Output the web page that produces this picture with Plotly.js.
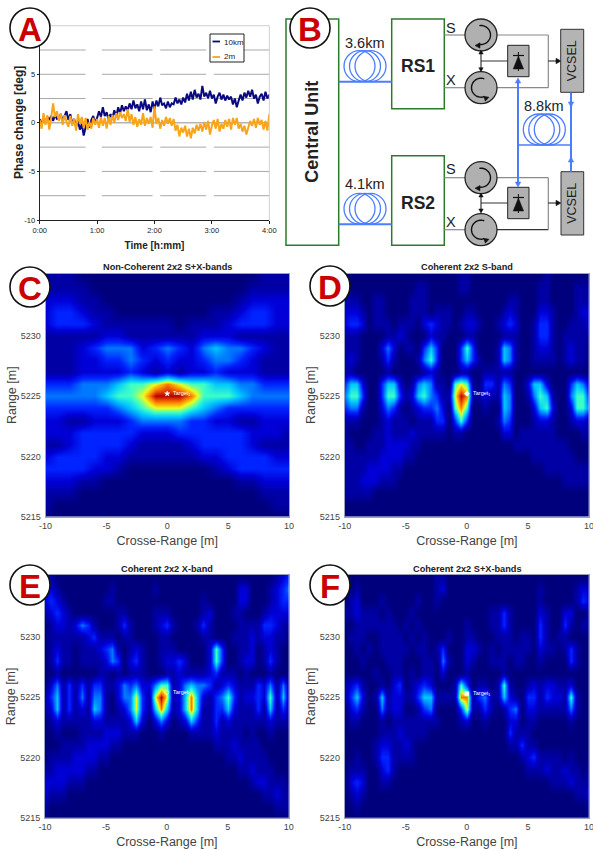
<!DOCTYPE html>
<html><head><meta charset="utf-8">
<script src="https://cdn.plot.ly/plotly-3.0.1.min.js"></script>
<style>html,body{margin:0;padding:0;background:#fff}#g{width:593px;height:850px}</style>
</head><body><div id="g"></div>
<script>
// ---- Panel A data: phase change [deg], one reading every 2 minutes
const timeTicks = [0,60,120,180,240];
const timeLabels = ['0:00','1:00','2:00','3:00','4:00'];
const phaseTicks = [-10,-5,0,5];
const phaseLabels = ['-10','-5','0','5'];
const phase10km = [0.4,-0.2,0.6,0.1,0.6,0.3,0.7,0.2,0.8,0.4,0.5,0.9,0.2,0.7,1.2,
0.3,0.9,-0.1,0.4,-0.4,0.2,-0.7,-0.1,-1.3,-0.3,0.4,-0.5,0.3,0.7,0.0,
0.5,1.2,0.6,1.6,0.7,1.1,0.3,0.9,0.5,1.3,0.6,1.6,1.0,1.8,1.2,
1.7,1.3,2.0,1.4,2.3,1.5,1.9,1.2,2.2,1.4,2.4,1.3,1.9,1.1,2.2,
1.4,2.3,1.7,2.6,1.8,2.0,1.5,2.2,1.6,2.0,1.9,2.6,2.0,2.4,1.9,
2.6,2.1,3.0,2.3,3.2,2.4,3.4,2.6,3.0,2.4,3.8,2.7,3.1,2.5,3.3,
2.5,2.9,2.0,2.7,3.1,2.4,2.9,2.3,2.8,2.4,2.7,1.9,2.5,1.6,2.3,
2.9,2.3,3.1,2.6,3.3,2.7,3.4,2.5,2.9,2.0,2.7,3.0,2.3,3.2,2.5,2.9];
const phase2m = [0.3,-0.6,1.0,-0.2,0.8,-0.7,0.5,2.0,0.6,1.2,0.2,1.0,-0.2,0.8,0.1,
-0.4,0.7,-0.3,0.4,-0.8,0.9,-0.1,0.6,-0.5,0.5,-0.7,0.1,-0.6,0.5,-0.2,
0.4,-0.5,0.6,-0.3,0.5,-0.6,0.7,-0.2,0.8,0.0,1.0,0.3,1.1,0.5,0.9,
0.2,1.4,0.1,0.9,-0.2,0.6,-0.4,0.4,-0.2,1.0,-0.3,0.5,-0.1,0.6,-0.5,
1.7,-0.1,0.5,-0.6,0.3,-0.3,0.6,-0.1,0.5,-0.3,0.4,-0.8,-0.2,-1.4,-0.5,
-1.0,-0.3,-1.4,-0.6,-1.6,-0.5,-1.1,-0.2,-0.8,-0.1,-0.9,0.1,-0.7,0.2,-1.2,
-0.3,0.3,-0.6,0.4,-0.9,-0.1,-0.6,0.3,-0.4,0.4,-0.7,0.5,-0.2,0.5,-0.6,
-0.1,-0.9,-0.3,-1.2,-0.4,0.2,-0.3,0.4,-0.5,0.5,-0.2,0.3,-0.7,0.2,-0.8,0.9];

// ---- Panels C-F data: intensity level 0-9.
// Rows run from range 5235 m (top) down to 5215 m.
// Each row runs from crossrange -10 m to +10 m.
const rangeRows = [5235,5234,5233,5232,5231,5230,5229,5228,5227,5226,5225,5224,5223,5222,5221,5220,5219,5218,5217,5216,5215];
const panelC = [ // 1 m column spacing
"11100 00000 00000 00011 1",
"11110 00000 00000 00111 1",
"22211 00000 00000 01222 2",
"23321 10000 00001 12332 2",
"23332 11111 10111 23332 2",
"11111 22111 11122 21111 1",
"11123 44423 43245 44321 1",
"11122 33432 32234 43211 1",
"11122 22321 21223 22211 1",
"33344 45667 87665 54433 3",
"44444 56679 99866 65444 4",
"33333 34567 77654 33333 3",
"22112 22344 44332 21122 2",
"22233 33322 23333 33222 1",
"11233 33211 11233 33211 1",
"23333 22111 11122 33332 2",
"33332 21000 00001 23333 3",
"22211 00000 00000 01122 2",
"11100 00000 00000 00011 1",
"10000 00000 00000 00001 1",
"00000 00000 00000 00000 0"];
const panelD = [ // 0.5 m column spacing
"00000 00000 00000 00001 10000 00000 00010 00000 0",
"10000 00000 00110 00001 10000 00000 00110 00011 1",
"11100 11000 01110 00000 00000 00110 00110 00011 1",
"22210 11000 01110 11100 11000 01210 00221 00012 2",
"23320 11101 11023 21101 22100 12320 01331 00111 2",
"11100 00112 10002 11000 11000 01110 01331 01111 1",
"11100 02420 11035 30003 63000 15410 01221 01211 0",
"12100 01310 00146 30003 53100 15410 01111 01211 0",
"11000 00100 00012 10001 10011 11100 00000 00000 0",
"35520 03552 01454 11067 61033 14300 25520 00354 2",
"46630 03663 12564 31179 81121 15400 14651 00466 3",
"34410 02431 01233 42068 60010 05400 02562 00266 4",
"11100 01211 10111 33036 30000 14300 01221 00122 1",
"10000 11211 12111 11011 00000 02201 11111 00001 1",
"11001 11222 21100 00000 00000 00011 11111 11000 0",
"11111 12222 11000 00000 00000 00000 01111 11100 0",
"11112 22211 00000 00000 00000 00000 00011 11111 1",
"11122 21110 00000 00000 00000 00000 00000 01111 1",
"11111 00000 00000 00000 00000 00000 00000 00000 0",
"00000 00000 00000 00000 00000 00000 00000 00000 0",
"00000 00000 00000 00000 00000 00000 00000 00000 0"];
const panelE = [
"11000 00000 00000 00000 00000 00000 00000 00012 3",
"22100 00000 01000 00010 00000 00000 00220 00123 4",
"23210 00000 11000 00000 00000 01000 00220 00123 3",
"12321 00000 00110 00011 10000 01200 01100 01222 2",
"01221 24310 00131 00012 31000 13100 00111 13321 1",
"01111 11231 11011 00001 10000 01100 01112 12211 0",
"01211 01112 34101 21001 11000 00263 00112 01210 0",
"01311 01111 24302 31001 22320 00263 00122 01310 0",
"00100 00001 10101 11000 11211 11231 11010 00100 0",
"02413 13133 11243 42246 61245 44312 32111 32414 1",
"13513 14144 10244 73179 71258 52134 63122 32615 1",
"12513 12154 10124 73158 51258 51133 52111 31513 1",
"01211 11122 11112 52024 20125 31131 21111 11211 1",
"00100 01111 22211 10001 00001 11121 11101 00100 0",
"00011 11222 21100 00000 00000 00011 12111 10000 0",
"01111 22221 10000 00000 00000 00000 11211 11000 0",
"11222 22110 00000 00000 00000 00000 00112 11100 0",
"22221 11000 00000 00000 00000 00000 00001 22111 0",
"21110 00000 00000 00000 00000 00000 00000 01121 1",
"10000 00000 00000 00000 00000 00000 00000 00011 1",
"00000 00000 00000 00000 00000 00000 00000 00000 0"];
const panelF = [
"00000 00000 00000 11000 00000 00000 00000 00000 0",
"00100 00000 00000 12000 00000 00000 00100 00012 2",
"01200 01000 00100 10000 00000 00000 00100 00013 2",
"11211 10100 01000 00000 00001 13100 00210 02200 1",
"00111 11110 10100 00000 10001 13100 00310 03101 1",
"01110 01111 01010 00100 11000 11101 10310 11000 0",
"00101 01111 10110 13000 22101 01111 10211 01310 0",
"00010 00111 00011 04100 21001 11011 00100 00310 0",
"00000 10011 01011 02000 10000 01000 00000 00000 0",
"12310 01023 01232 00016 30110 16100 12122 11200 0",
"13520 15122 11355 11118 81341 15210 33132 21610 0",
"02310 04122 00134 00003 71131 01340 22111 11410 0",
"01100 01011 11111 10001 20010 00220 11000 00100 0",
"00000 01112 11110 00000 00000 00311 10000 00000 0",
"00000 12211 21000 00000 00000 00113 11000 00000 0",
"00100 13311 11000 00000 00000 00001 23111 10100 0",
"01110 02310 00000 00000 00000 00000 11121 12110 1",
"02320 01100 00000 00000 00000 00000 00001 11211 1",
"01210 00000 00000 00000 00000 00000 00000 00011 2",
"00100 00000 00000 00000 00000 00000 00000 00000 1",
"00000 00000 00000 00000 00000 00000 00000 00000 0"];
const rangeTicks = [5215,5220,5225,5230];
const crossTicks = [-10,-5,0,5,10];
const crossLabels = ['-10','-5','0','5','10'];
const panelTitles = ['Non-Coherent 2x2 S+X-bands','Coherent 2x2 S-band','Coherent 2x2 X-band','Coherent 2x2 S+X-bands'];
const targetRange = [5225.2,5225.2,5225.4,5225.3];
const targetSymbols = ['star','diamond','circle-open','square'];
const badgeLetters = ['A','B','C','D','E','F'];

const W=593,H=850, FONT='Arial, "Liberation Sans", sans-serif';
const X=x=>x/W, Y=y=>1-y/H;
const jet=[[0,'rgb(0,0,125)'],[1/9,'rgb(0,0,165)'],[2/9,'rgb(0,0,215)'],[3/9,'rgb(0,35,255)'],[4/9,'rgb(0,120,255)'],
[5/9,'rgb(0,200,255)'],[6/9,'rgb(60,255,200)'],[7/9,'rgb(235,255,30)'],[8/9,'rgb(255,120,0)'],[1,'rgb(185,0,0)']];

const shapes=[], annotations=[], traces=[];
const P={xref:'paper',yref:'paper',layer:'above'};
function line(x0,y0,x1,y1,c,w){shapes.push({...P,type:'line',x0:X(x0),y0:Y(y0),x1:X(x1),y1:Y(y1),line:{color:c,width:w||1}});}
function rect(x0,y0,x1,y1,c,w,f){shapes.push({...P,type:'rect',x0:X(x0),y0:Y(y0),x1:X(x1),y1:Y(y1),line:{color:c,width:w||1},fillcolor:f||'rgba(0,0,0,0)'});}
function circ(cx,cy,r,c,w,f){shapes.push({...P,type:'circle',x0:X(cx-r),y0:Y(cy-r),x1:X(cx+r),y1:Y(cy+r),line:{color:c,width:w||1},fillcolor:f||'rgba(0,0,0,0)'});}
function poly(pts,f){shapes.push({...P,type:'path',path:'M'+pts.map(p=>X(p[0])+' '+Y(p[1])).join(' L')+' Z',fillcolor:f,line:{color:f,width:0.5}});}
function arc(cx,cy,r,a0,a1,c,w){const pts=[];for(let k=0;k<=24;k++){const a=(a0+(a1-a0)*k/24)*Math.PI/180;pts.push(X(cx+r*Math.cos(a))+' '+Y(cy+r*Math.sin(a)));}
 shapes.push({...P,type:'path',path:'M'+pts.join(' L'),line:{color:c,width:w}});}
function tip(x,y,dx,dy,s,f){const b=[x-dx*s,y-dy*s],h=s*0.55;poly([[x,y],[b[0]-dy*h,b[1]+dx*h],[b[0]+dy*h,b[1]-dx*h]],f);}
function text(t,x,y,size,o){o=o||{};annotations.push({text:t,x:X(x),y:Y(y),xref:'paper',yref:'paper',showarrow:false,xanchor:o.xa||'center',yanchor:'middle',textangle:o.rot||0,
 font:{family:FONT,size:size,color:o.c||'#222'}});}

// ---- Panel A
const tA=[39.7,269.3,25.7,220];
const minutes=phase10km.map((_,i)=>i*2);
traces.push({type:'scatter',mode:'lines',name:'10km',x:minutes,y:phase10km,xaxis:'x',yaxis:'y',line:{color:'#0a0a80',width:2},showlegend:false});
traces.push({type:'scatter',mode:'lines',name:'2m',x:minutes,y:phase2m,xaxis:'x',yaxis:'y',line:{color:'#f8a51c',width:2},showlegend:false});
const gridSeg=[[0,48],[65,118],[126,174],[182,240]];
[7.5,5,2.5,-2.5,-5,-7.5].forEach(v=>gridSeg.forEach(s=>shapes.push({type:'line',xref:'x',yref:'y',layer:'below',x0:s[0],x1:s[1],y0:v,y1:v,line:{color:'#a8a8a8',width:1}})));
shapes.push({type:'line',xref:'x',yref:'y',layer:'below',x0:0,x1:240,y0:0,y1:0,line:{color:'#b4b4b4',width:1.5}});
rect(210,34,244,62,'#222',1,'#fff');
line(212.5,41.5,220,41.5,'#0a0a80',1.8); line(212.5,57,220,57,'#f8a51c',1.8);
text('10km',222,42,8,{xa:'left'}); text('2m',222,57,8,{xa:'left'});
text('<b>Phase change [deg]</b>',19,123,12,{rot:-90});

const layout={width:W,height:H,margin:{l:0,r:0,t:0,b:0,pad:0},paper_bgcolor:'#fff',plot_bgcolor:'#fff',showlegend:false,
 font:{family:FONT,size:9,color:'#333'},shapes,annotations};
layout.xaxis={domain:[X(tA[0]),X(tA[1])],range:[0,240],tickvals:timeTicks,ticktext:timeLabels,showgrid:false,zeroline:false,showline:true,linecolor:'#222',mirror:false,
 ticks:'outside',ticklen:3,tickcolor:'#222',tickfont:{size:7.5,color:'#222'},anchor:'y',title:{text:'<b>Time [h:mm]</b>',font:{size:10,color:'#222'},standoff:7}};
layout.yaxis={domain:[Y(tA[3]),Y(tA[2])],range:[-10,10],tickvals:phaseTicks,ticktext:phaseLabels,showgrid:false,zeroline:false,showline:true,linecolor:'#222',
 ticks:'outside',ticklen:2,tickcolor:'#222',tickfont:{size:7.5,color:'#222'},anchor:'x'};
line(tA[0],tA[2],tA[1],tA[2],'#cfcfcf',1); line(tA[1],tA[2],tA[1],tA[3],'#cfcfcf',1);

// ---- Panels C-F
const parseRows=rows=>rows.map(r=>r.replace(/ /g,'').split('').map(Number)).reverse();
const geo=[[45.5,289,273.7,516.7],[344.7,589,273.7,516.7],[45,288.7,575,817.7],[344.7,589,575,817.7]];
[panelC,panelD,panelE,panelF].forEach((rows,i)=>{
 const z=parseRows(rows),n=z[0].length,ax=i+2,g=geo[i];
 const xs=z[0].map((_,k)=>-10+20*k/(n-1));
 traces.push({type:'heatmap',x:xs,y:rangeRows.slice().reverse(),z,zmin:0,zmax:9,zsmooth:'best',colorscale:jet,showscale:false,xaxis:'x'+ax,yaxis:'y'+ax});
 traces.push({type:'scatter',mode:'markers',x:[0],y:[targetRange[i]],
  marker:{symbol:targetSymbols[i],size:4,color:'#fff',line:{color:'#fff',width:0.5}},xaxis:'x'+ax,yaxis:'y'+ax,showlegend:false});
 annotations.push({text:'Target<sub>1</sub>',x:0.3,y:targetRange[i],xref:'x'+ax,yref:'y'+ax,showarrow:false,xanchor:'left',yanchor:'middle',font:{family:FONT,size:5.5,color:'#fff'}});
 const common={showgrid:false,zeroline:false,showline:true,mirror:true,linecolor:'#9aa0c0',linewidth:1,ticks:'',tickfont:{size:9,color:'#444'}};
 layout['xaxis'+ax]={...common,domain:[X(g[0]),X(g[1])],range:[-10,10],tickvals:crossTicks,ticktext:crossLabels,ticklabeloverflow:'allow',anchor:'y'+ax,title:{text:'Crosse-Range [m]',font:{size:12.5,color:'#444'},standoff:6}};
 layout['yaxis'+ax]={...common,domain:[Y(g[3]),Y(g[2])],range:[5215,5235.15],tickvals:rangeTicks,anchor:'x'+ax,ticklabelstandoff:2,title:{text:'Range [m]',font:{size:12.5,color:'#444'},standoff:1}};
});
text('<b>'+panelTitles[0]+'</b>',167.6,267,9.2); text('<b>'+panelTitles[1]+'</b>',466.6,267,9.2);
text('<b>'+panelTitles[2]+'</b>',167,568.7,9.2); text('<b>'+panelTitles[3]+'</b>',467,568.7,9.2);

// ---- Panel B schematic
const GREEN='#2c7a2c',BLUE='#4a7dff',GR='#8a8a8a',BOX='#b4b4b4',K='#111';
function coil(cx,cy){[-5.5,0,5.5].forEach(d=>circ(cx+d,cy,15.5,BLUE,1.3));}
rect(286,19,338.7,245.3,GREEN,1.5,'#fff'); rect(391.7,19,444.3,108.7,GREEN,1.5,'#fff'); rect(391.7,155.7,444.3,245.3,GREEN,1.5,'#fff');
coil(365,66.2); coil(365,208.8); coil(544.3,129.5);
line(338.7,81.7,391.7,81.7,BLUE,2); line(338.7,224.3,391.7,224.3,BLUE,2); line(517.7,145,571,145,BLUE,1.5);
text('<b>Central Unit</b>',312,131.7,18,{rot:-90}); text('<b>RS1</b>',418.3,66,17.5); text('<b>RS2</b>',418.3,202.7,17.5);
text('3.6km',365,42.7,14.5); text('4.1km',365,184.3,14.5); text('8.8km',544.3,106,14.5);
text('S',451.3,28.3,14.5); text('X',451.3,80,14.5); text('S',451.3,169.3,14.5); text('X',451.3,221.7,14.5);
[[35,87.7,61,51,70.7,28.3],[177.7,229.7,203,194,212,0]].forEach(b=>{
 const[yS,yX,yM,yA0,yA1]=b;
 line(444.3,yS,465,yS,GR,1.2); line(444.3,yX,465,yX,GR,1.2);
 line(497,yS,548.3,yS,GR,1.2); line(497,yX,548.3,yX,yS>100?'#333':GR,1.2); line(548.3,yS,548.3,yX,GR,1.2);
 circ(481,yS,16,'#222',1.3,'#b0b0b0'); circ(481,yX,16,'#222',1.3,'#b0b0b0');
 arc(481,yS,9.5,-100,100,K,1.4); tip(475,yS+10.5,-1,0,5,K);
 arc(481,yX,9.5,-70,-290,K,1.4); tip(489,yX+9.5,0.9,-0.3,5,K);
 line(481,yA0,481,yA1,K,1); tip(481,yA0-1,0,-1,4,K); tip(481,yA1+1,0,1,4,K);
 line(481,yM,507.7,yM,'#333',1);
 rect(507.7,yM-15.7,529,yM+15.7,'#222',1,'#b0b0b0');
 line(518.4,yM-9,518.4,yM+10,K,1); line(513,yM-5.5,524,yM-5.5,K,1.2);
 poly([[513.2,yM+8],[523.6,yM+8],[518.4,yM-5]],K);
 line(548.3,yM,557,yM,K,1); tip(561,yM,1,0,5,K);
});
rect(560.7,29.3,583.7,92.3,'#333',1,BOX); rect(561,171.7,583.7,235,'#333',1,BOX);
text('VCSEL',572.3,61,12.5,{rot:-90}); text('VCSEL',572.3,203.5,12.5,{rot:-90});
line(518,82,518,183,BLUE,2); tip(518,78,0,-1,5,BLUE); tip(518,187,0,1,5,BLUE);
line(571,92.7,571,171.7,BLUE,2); tip(571,107,0,1,5,BLUE); tip(571,157,0,-1,5,BLUE);

// ---- Panel badges
[[30,28],[310,28],[30,287],[330,286],[30,585],[330,585]].forEach((c,i)=>{
 circ(c[0],c[1],20,'#111',1.6,'#fff');
 text('<b>'+badgeLetters[i]+'</b>',c[0],c[1]+1,33,{c:'#cc0000'});
});

Plotly.newPlot('g',traces,layout,{displayModeBar:false,staticPlot:true});
</script></body></html>
